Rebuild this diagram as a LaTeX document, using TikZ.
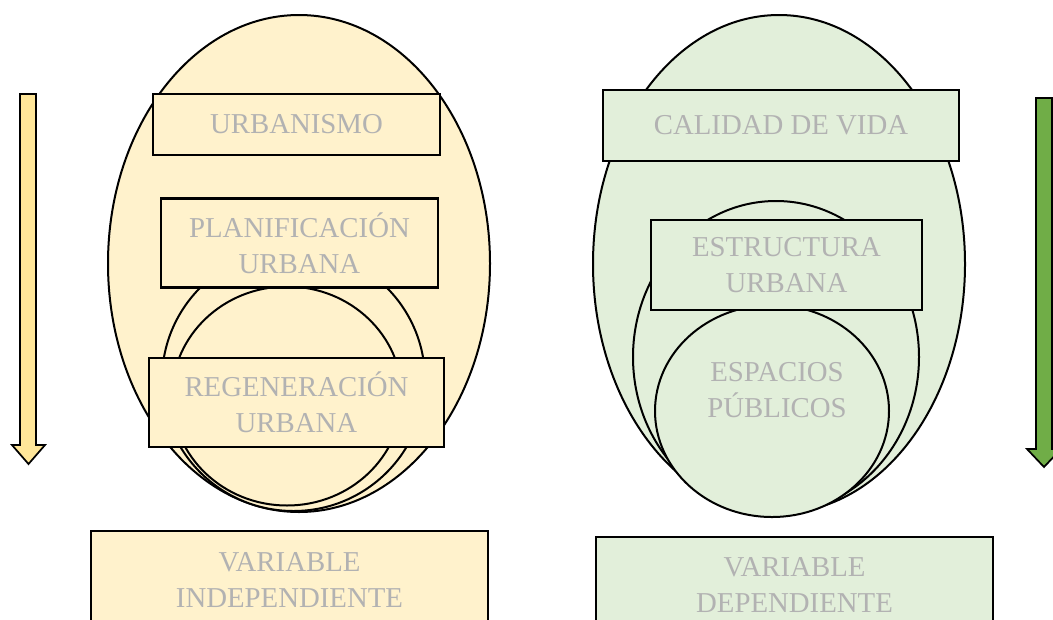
\documentclass[tikz,border=0pt]{standalone}
\usepackage{fontspec}
\setmainfont{Liberation Serif}
\usepackage{tikz}
\usetikzlibrary{calc}

\definecolor{amarillo}{HTML}{FFF2CC}
\definecolor{verde}{HTML}{E2EFDA}
\definecolor{flechaA}{HTML}{FFE699}
\definecolor{flechaV}{HTML}{70AD47}
\definecolor{texto}{RGB}{178,178,178}

\tikzset{
  caja/.style={draw=black, line width=1.8pt, inner sep=0pt, outer sep=0pt,
    align=center, text=texto, font=\fontsize{21.6}{27}\selectfont},
  borde/.style={draw=black, line width=1.5pt}
}

\begin{document}
\begin{tikzpicture}[x=0.75pt, y=-0.75pt]
  % marco de la imagen
  \useasboundingbox (0,0) rectangle (1053,619);
  \clip (0,0) rectangle (1053,619);

  % flecha izquierda
  \draw[line width=1.3pt, fill=flechaA] (20,94) -- (36,94) -- (36,445) -- (45,445)
    -- (28.5,464) -- (12,445) -- (20,445) -- cycle;
  % flecha derecha
  \draw[line width=1.3pt, fill=flechaV] (1036,98) -- (1052,98) -- (1052,449) -- (1061,449)
    -- (1044,467) -- (1027,449) -- (1036,449) -- cycle;

  % elipse grande y circulos de la izquierda
  \draw[borde, fill=amarillo] (299,263.5) ellipse [x radius=191, y radius=248.5];
  \draw[borde, fill=amarillo] (293.5,380) ellipse [x radius=131.5, y radius=131];
  \draw[borde, fill=amarillo] (287,396) ellipse [x radius=115, y radius=109.5];

  % elipse grande y circulos de la derecha
  \draw[borde, fill=verde] (779,264) ellipse [x radius=186, y radius=249];
  \draw[borde, fill=verde] (776,357) ellipse [x radius=143, y radius=156];
  \draw[borde, fill=verde] (772,411) ellipse [x radius=117, y radius=106];

  % cajas de la izquierda
  \node[caja, fill=amarillo, minimum width=215.25pt, minimum height=45.75pt]
    (urbanismo) at (296.5,124.5) {URBANISMO};
  \node[caja, fill=amarillo, minimum width=207.75pt, minimum height=66.75pt]
    (planificacion) at (299.5,243) {PLANIFICACIÓN\\URBANA};
  \node[caja, fill=amarillo, minimum width=221.25pt, minimum height=66.75pt]
    (regeneracion) at (296.5,402.5) {REGENERACIÓN\\URBANA};
  \node[caja, fill=amarillo, minimum width=297.75pt, minimum height=73.5pt]
    (independiente) at (289.5,580) {VARIABLE\\INDEPENDIENTE};

  % cajas de la derecha
  \node[caja, fill=verde, minimum width=267pt, minimum height=53.25pt]
    (calidad) at (781,125.5) {CALIDAD DE VIDA};
  \node[caja, fill=verde, minimum width=203.25pt, minimum height=67.5pt]
    (estructura) at (786.5,265) {ESTRUCTURA\\URBANA};
  \node[caja, draw=none] (espacios) at (777,390) {ESPACIOS\\PÚBLICOS};
  \node[caja, fill=verde, minimum width=297.75pt, minimum height=72pt]
    (dependiente) at (794.5,585) {VARIABLE\\DEPENDIENTE};
\end{tikzpicture}
\end{document}
